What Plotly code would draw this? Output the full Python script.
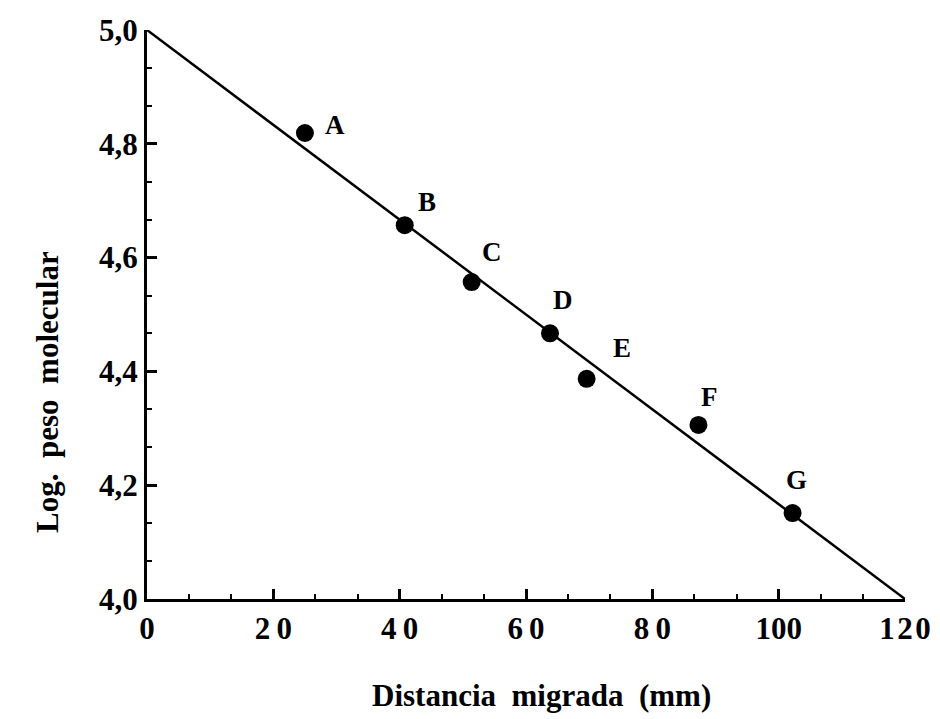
import plotly.graph_objects as go

# Data
labels = ["A", "B", "C", "D", "E", "F", "G"]
distance_mm = [25.0, 40.8, 51.4, 63.8, 69.6, 87.3, 102.2]
log_mw = [4.819, 4.657, 4.557, 4.467, 4.387, 4.306, 4.151]
fit_x = [0, 120]
fit_y = [5.0, 4.0]
x_ticks = [0, 20, 40, 60, 80, 100, 120]
x_ticktext = ["0", "2\u20090", "4\u20090", "6\u20090", "8\u20090", "100", "1\u200a2\u200a0"]
y_ticks = [4.0, 4.2, 4.4, 4.6, 4.8, 5.0]
y_ticktext = ["4,0", "4,2", "4,4", "4,6", "4,8", "5,0"]
x_title = "Distancia\u00a0\u00a0migrada\u00a0\u00a0(mm)"
y_title = "Log.\u00a0\u00a0peso\u00a0\u00a0molecular"

# Label offsets (pixels), styling only
label_dx = [30, 22, 20, 13, 35, 11, 4]
label_dy = [8, 23, 30, 33, 31, 28, 33]

FONT = "Liberation Serif"

fig = go.Figure()
fig.add_trace(go.Scatter(x=fit_x, y=fit_y, mode="lines",
                         line=dict(color="black", width=2.5),
                         showlegend=False, hoverinfo="skip"))
fig.add_trace(go.Scatter(x=distance_mm, y=log_mw, mode="markers",
                         marker=dict(color="black", size=18),
                         showlegend=False))

for lab, x, y, dx, dy in zip(labels, distance_mm, log_mw, label_dx, label_dy):
    fig.add_annotation(x=x, y=y, text="<b>%s</b>" % lab, showarrow=False,
                       xshift=dx, yshift=dy,
                       font=dict(family=FONT, size=27, color="black"))

# Axis titles as annotations for precise placement
fig.add_annotation(xref="paper", yref="paper", x=0.52, y=-0.169,
                   text="<b>%s</b>" % x_title, showarrow=False,
                   xanchor="center", yanchor="middle",
                   font=dict(family=FONT, size=31, color="black"))
fig.add_annotation(xref="paper", yref="paper", x=-0.1306, y=0.364,
                   text="<b>%s</b>" % y_title, showarrow=False,
                   textangle=-90, xanchor="center", yanchor="middle",
                   font=dict(family=FONT, size=31, color="black"))

axis_common = dict(showgrid=False, zeroline=False, showline=True,
                   linecolor="black", linewidth=3, ticks="inside",
                   tickcolor="black", tickwidth=2.5, ticklen=10,
                   tickfont=dict(family=FONT, size=31, color="black"))

fig.update_xaxes(range=[0, 120], tickmode="array", tickvals=x_ticks,
                 ticktext=["<b>%s</b>" % t for t in x_ticktext],
                 minor=dict(dtick=20 / 3, ticks="inside", ticklen=5,
                            tickwidth=2, tickcolor="black"),
                 **axis_common)
fig.update_yaxes(range=[4.0, 5.0], tickmode="array", tickvals=y_ticks,
                 ticktext=["<b>%s</b>" % t for t in y_ticktext],
                 minor=dict(dtick=0.2 / 3, ticks="inside", ticklen=5,
                            tickwidth=2, tickcolor="black"),
                 **axis_common)

fig.update_layout(width=932, height=711, plot_bgcolor="white",
                  paper_bgcolor="white",
                  margin=dict(l=139, r=35, t=22, b=120, autoexpand=False))

fig.write_html("out.html")
